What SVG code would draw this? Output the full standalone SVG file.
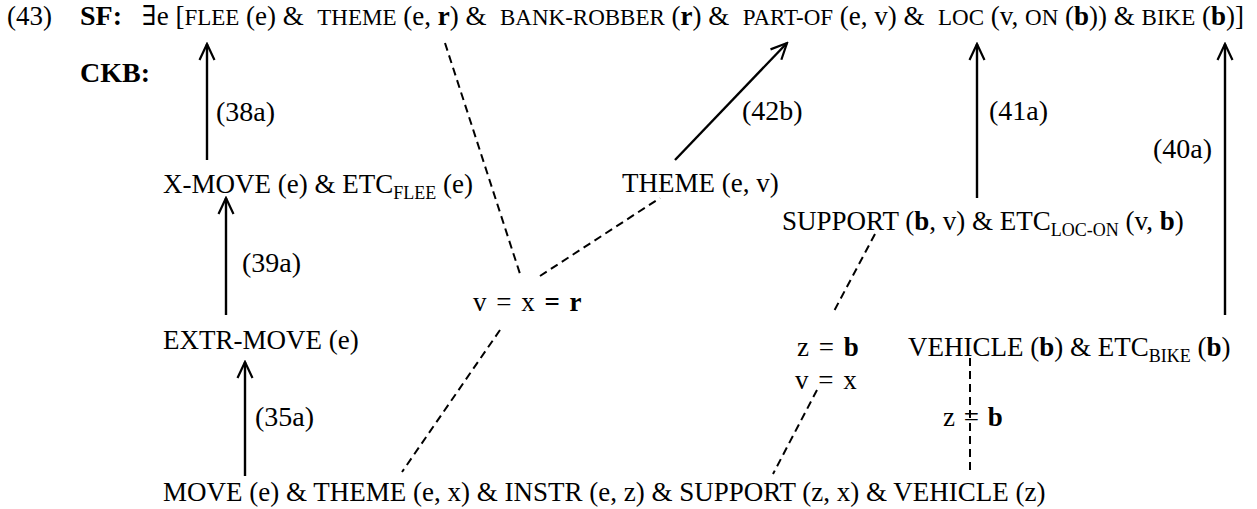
<svg xmlns="http://www.w3.org/2000/svg" width="1257" height="509" viewBox="0 0 1257 509">
<defs>
<marker id="ah" viewBox="0 0 20 20" refX="18" refY="10" markerWidth="20" markerHeight="20" markerUnits="userSpaceOnUse" orient="auto">
<path d="M2,2.5 L18,10 L2,17.5" fill="none" stroke="#000" stroke-width="2.2" stroke-linejoin="miter"/>
</marker>
<style>
text{font-family:"Liberation Serif","DejaVu Serif","Times New Roman",serif;font-size:27px;fill:#000}
.sc{font-size:23px}
.b{font-weight:bold}
.big{font-size:28px;font-weight:bold}
.sub{font-size:18px}
.lab{font-size:28px}
.solid{stroke:#000;stroke-width:2.4;fill:none}
.dash{stroke:#000;stroke-width:2;fill:none;stroke-dasharray:8,5}
</style>
</defs>
<rect width="1257" height="509" fill="#fff"/>
<g id="sf">
<text x="7" y="25">(43)</text>
<text x="80" y="25" class="big">SF:</text>
<text x="142" y="25">∃e [<tspan class="sc">FLEE</tspan> (e) &amp;&#160; <tspan class="sc">THEME</tspan> (e, <tspan class="b">r</tspan>) &amp;&#160; <tspan class="sc">BANK-ROBBER</tspan> (<tspan class="b">r</tspan>) &amp;&#160; <tspan class="sc">PART-OF</tspan> (e, v) &amp;&#160; <tspan class="sc">LOC</tspan> (v, <tspan class="sc">ON</tspan> (<tspan class="b">b</tspan>)) &amp; <tspan class="sc">BIKE</tspan> (<tspan class="b">b</tspan>)]</text>
</g>
<g id="ckb"><text x="80" y="82" class="big">CKB:</text></g>
<g id="xmove"><text x="163" y="193">X-MOVE (e) &amp; ETC<tspan class="sub" dy="6">FLEE</tspan><tspan dy="-6"> (e)</tspan></text></g>
<g id="themev"><text x="622" y="192">THEME (e, v)</text></g>
<g id="support"><text x="782" y="230">SUPPORT (<tspan class="b">b</tspan>, v) &amp; ETC<tspan class="sub" dy="6">LOC-ON</tspan><tspan dy="-6"> (v, </tspan><tspan class="b">b</tspan>)</text></g>
<g id="vxr"><text x="473" y="311" style="word-spacing:3px">v = x <tspan class="b">= r</tspan></text></g>
<g id="extrmove"><text x="163" y="349">EXTR-MOVE (e)</text></g>
<g id="zb1"><text x="797" y="356" style="word-spacing:3px">z = <tspan class="b">b</tspan></text></g>
<g id="vehicle"><text x="908" y="356">VEHICLE (<tspan class="b">b</tspan>) &amp; ETC<tspan class="sub" dy="6">BIKE</tspan><tspan dy="-6"> (</tspan><tspan class="b">b</tspan>)</text></g>
<g id="vx"><text x="795" y="389" style="word-spacing:3px">v = x</text></g>
<g id="zb2"><text x="943" y="426" style="word-spacing:2px">z = <tspan class="b">b</tspan></text></g>
<g id="move"><text x="163" y="501">MOVE (e) &amp; THEME (e, x) &amp; INSTR (e, z) &amp; SUPPORT (z, x) &amp; VEHICLE (z)</text></g>
<g id="connectors">
<line class="solid" x1="207" y1="160" x2="207" y2="44" marker-end="url(#ah)"/>
<text x="216" y="121" class="lab">(38a)</text>
<line class="solid" x1="226" y1="315" x2="226" y2="198" marker-end="url(#ah)"/>
<text x="242" y="272" class="lab">(39a)</text>
<line class="solid" x1="245" y1="476" x2="245" y2="362" marker-end="url(#ah)"/>
<text x="255" y="426" class="lab">(35a)</text>
<line class="solid" x1="675" y1="160" x2="787" y2="43" marker-end="url(#ah)"/>
<text x="742" y="120" class="lab">(42b)</text>
<line class="solid" x1="977" y1="198" x2="977" y2="44" marker-end="url(#ah)"/>
<text x="989" y="120" class="lab">(41a)</text>
<line class="solid" x1="1225" y1="315" x2="1225" y2="44" marker-end="url(#ah)"/>
<text x="1153" y="158" class="lab">(40a)</text>
<line class="dash" x1="445" y1="43" x2="521" y2="277"/>
<line class="dash" x1="540" y1="276" x2="660" y2="198"/>
<line class="dash" x1="500" y1="330" x2="402" y2="472"/>
<line class="dash" x1="875" y1="234" x2="833" y2="313"/>
<line class="dash" x1="817" y1="390" x2="773" y2="474"/>
<line class="dash" x1="970" y1="358" x2="970" y2="474"/>
</g>
</svg>
